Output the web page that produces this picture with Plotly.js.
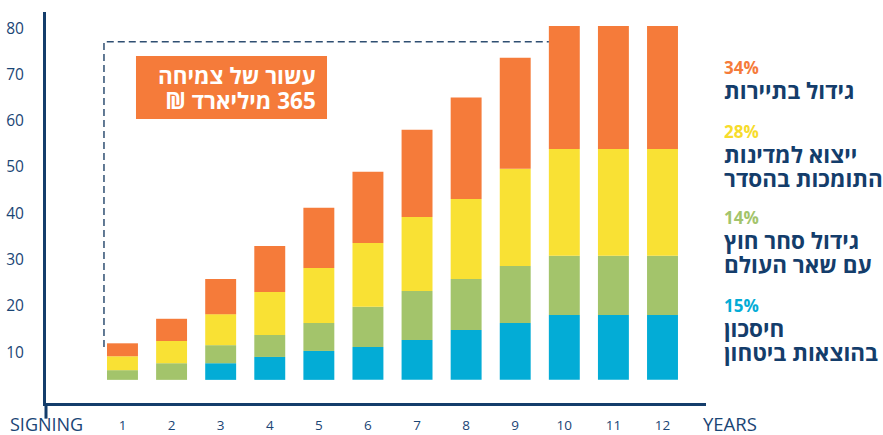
<!DOCTYPE html>
<html>
<head>
<meta charset="utf-8">
<script src="https://cdn.plot.ly/plotly-3.0.1.min.js"></script>
<style>
  html, body { margin: 0; padding: 0; background: #ffffff; }
  #chart { width: 883px; height: 435px; }
</style>
</head>
<body>
<div id="chart"></div>
<script>
// ---- data ----
const years = [1, 2, 3, 4, 5, 6, 7, 8, 9, 10, 11, 12];
const xTickLabels = ["1", "2", "3", "4", "5", "6", "7", "8", "9", "10", "11", "12"];
const baseline = [4, 4, 4, 4, 4, 4, 4, 4, 4, 4, 4, 4];
const defenseSavings = [0, 0, 3.6, 4.95, 6.25, 7.1, 8.6, 10.8, 12.3, 14.0, 14.0, 14.0];   // blue 15%
const foreignTrade   = [2.1, 3.6, 3.9, 4.75, 6.05, 8.7, 10.6, 11.0, 12.3, 12.8, 12.8, 12.8]; // green 14%
const exports        = [3.0, 4.8, 6.7, 9.3, 11.9, 13.8, 16.0, 17.3, 21.0, 23.1, 23.1, 23.1]; // yellow 28%
const tourism        = [2.8, 4.8, 7.6, 9.95, 13.0, 15.4, 18.85, 21.9, 24.0, 26.6, 26.6, 26.6]; // orange 34%
const yTickVals = [10, 20, 30, 40, 50, 60, 70, 80];
const seriesLines = [
  ["חיסכון", "בהוצאות ביטחון"],
  ["גידול סחר חוץ", "עם שאר העולם"],
  ["ייצוא למדינות", "התומכות בהסדר"],
  ["גידול בתיירות"]
];
const seriesPct = ["15%", "14%", "28%", "34%"];
const boxLine1 = "עשור של צמיחה";
const boxLine2 = "365 מיליארד ₪";

// ---- styles ----
const NAVY = "#143d6b";
const TEXT = "#1a4575";
const colors = ["#03acd6", "#a3c46b", "#f9e134", "#f57b3a"];
const pctColors = ["#03acd6", "#a3c46b", "#f7dc2c", "#f57b3a"];
const FONT = "Open Sans, Liberation Sans, DejaVu Sans, sans-serif";

const segs = [defenseSavings, foreignTrade, exports, tourism];
const traces = [];
let cum = baseline.slice();
segs.forEach((seg, i) => {
  traces.push({
    type: "bar",
    x: years,
    y: seg,
    base: cum.slice(),
    width: 0.63,
    marker: { color: colors[i], line: { width: 0 } },
    name: seriesLines[i].join(" "),
    hoverinfo: "skip"
  });
  cum = cum.map((c, k) => c + seg[k]);
});

// pixel helpers (plot area: x 46..706, y 12..403)
const px2xp = px => (px - 46) / 660;
const py2yp = py => (403 - py) / 391;

// legend blocks: centre (in px) of each block of lines
const blockCenters = [330.5, 242.5, 156.5, 81];
const annotations = [];
[3, 2, 1, 0].forEach(i => {
  const lines = ['<span style="font-size:17px;color:' + pctColors[i] + '">' + seriesPct[i] + "</span>"]
    .concat(seriesLines[i].map(t => '<span style="font-size:22.5px">' + t + "</span>"));
  annotations.push({
    text: "<b>" + lines.join("<br>") + "</b>",
    xref: "paper", yref: "paper",
    x: px2xp(722), y: py2yp(blockCenters[i]),
    xanchor: "left", yanchor: "middle", align: "left",
    showarrow: false,
    font: { family: FONT, size: 19, color: NAVY }
  });
});

annotations.push(
  { text: "SIGNING", xref: "paper", yref: "paper", x: px2xp(46), y: py2yp(424),
    xanchor: "center", yanchor: "middle", showarrow: false,
    font: { family: FONT, size: 18, color: TEXT } },
  { text: "YEARS", xref: "paper", yref: "paper", x: px2xp(730), y: py2yp(424),
    xanchor: "center", yanchor: "middle", showarrow: false,
    font: { family: FONT, size: 18.5, color: TEXT } },
  { text: '<b><span style="font-size:22.5px">' + boxLine1 + '</span><br><span style="font-size:22.5px">\u200F' + boxLine2 + "\u200F</span></b>",
    xref: "x", yref: "y", x: 4.99, y: 67.0,
    xanchor: "right", yanchor: "middle", align: "right", showarrow: false,
    font: { family: FONT, size: 19.3, color: "#ffffff" } }
);

const shapes = [
  // dashed bracket
  { type: "path", xref: "x", yref: "y",
    path: "M 0.623 11.1 L 0.623 77.06 L 9.685 77.06",
    line: { color: "#2f4f72", width: 1.5, dash: "7px,4px" } },
  // orange box
  { type: "rect", xref: "x", yref: "y", x0: 1.275, x1: 5.166, y0: 60.4, y1: 74.0,
    fillcolor: "#f57b3a", line: { width: 0 }, layer: "above" },
  // vertical axis extension below the x axis
  { type: "line", xref: "paper", yref: "paper", x0: 0, x1: 0, y0: -0.04, y1: 0,
    line: { color: NAVY, width: 3 } }
];

const layout = {
  width: 883, height: 435,
  margin: { l: 46, r: 177, t: 12, b: 32, pad: 0 },
  paper_bgcolor: "#ffffff", plot_bgcolor: "#ffffff",
  barmode: "overlay",
  showlegend: false,
  font: { family: FONT, color: TEXT },
  xaxis: {
    range: [-0.558, 12.886],
    tickvals: years, ticktext: xTickLabels,
    ticks: "", showgrid: false, zeroline: false,
    showline: true, linecolor: NAVY, linewidth: 3,
    tickfont: { family: FONT, size: 13.5, color: TEXT },
    ticklabelstandoff: 8,
    fixedrange: true
  },
  yaxis: {
    range: [-1.0, 83.5],
    tickvals: yTickVals, ticktext: yTickVals.map(String),
    ticks: "", showgrid: false, zeroline: false,
    showline: true, linecolor: NAVY, linewidth: 3,
    tickfont: { family: FONT, size: 15.5, color: TEXT },
    ticklabelstandoff: 16,
    fixedrange: true
  },
  annotations: annotations,
  shapes: shapes,
  hovermode: false
};

Plotly.newPlot("chart", traces, layout, { displayModeBar: false, staticPlot: true });
</script>
</body>
</html>
